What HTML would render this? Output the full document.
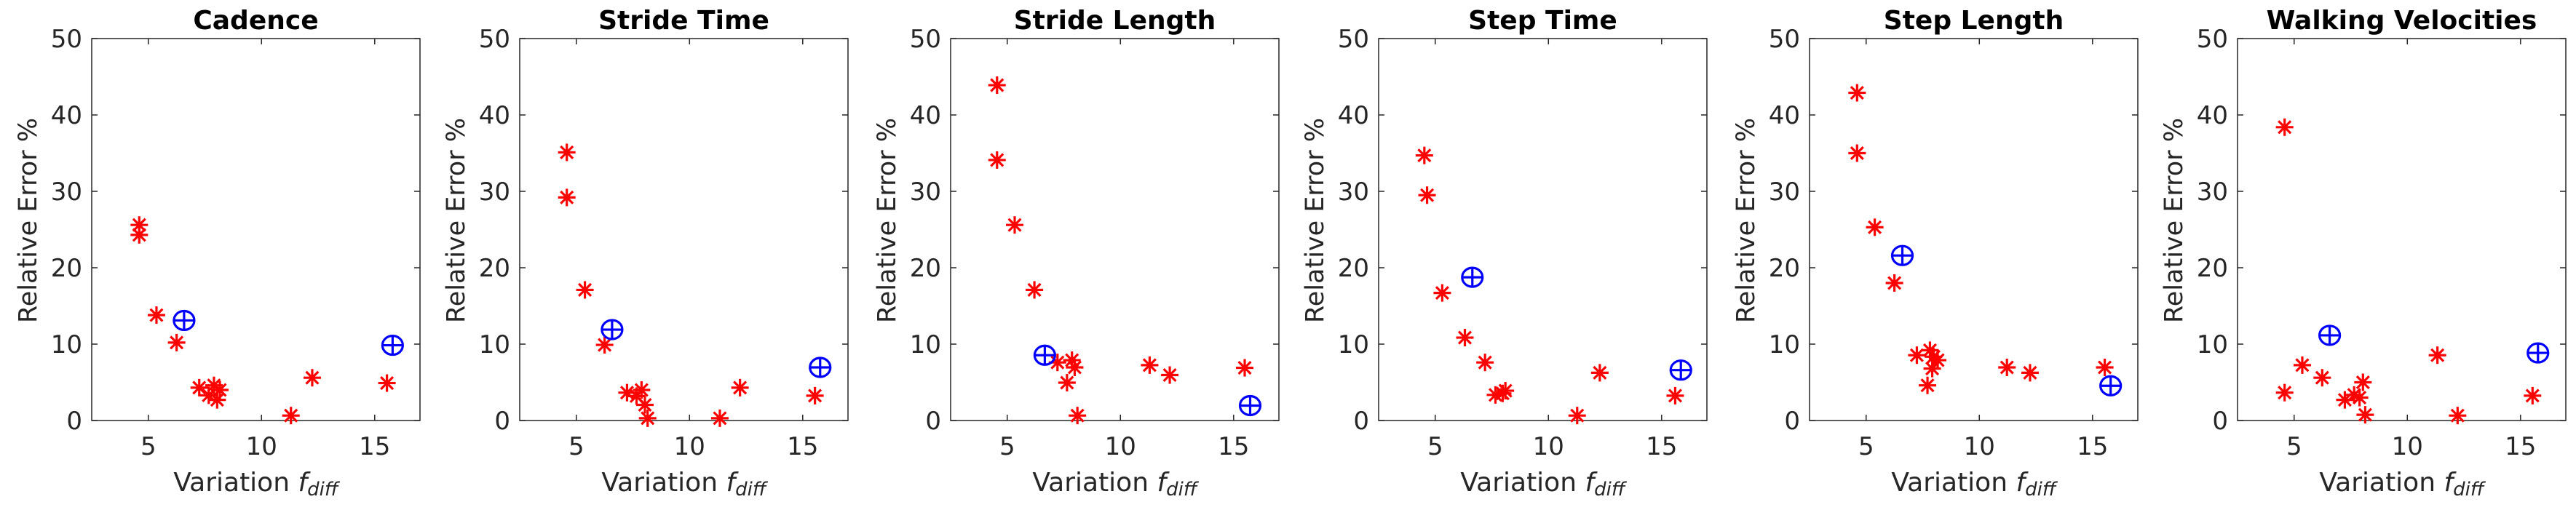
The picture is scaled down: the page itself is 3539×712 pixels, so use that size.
<!DOCTYPE html>
<html><head><meta charset="utf-8"><style>
body{margin:0;background:#fff;}
svg{display:block;}
text{font-family:"DejaVu Sans","Liberation Sans",sans-serif;}
</style></head><body>
<svg id="fig" width="3539" height="712" viewBox="0 0 3539 712" xmlns="http://www.w3.org/2000/svg"></svg>
<script>
const titles = ["Cadence","Stride Time","Stride Length","Step Time","Step Length","Walking Velocities"];
const xTicks = [5,10,15];
const yTicks = [0,10,20,30,40,50];
const redX = [
 [4.6,4.6,5.36,6.25,7.25,7.9,7.67,8.16,8.04,11.3,12.24,15.54],
 [4.58,4.58,5.38,6.25,7.24,7.66,7.88,8.03,8.15,11.34,12.23,15.54],
 [4.55,4.55,5.33,6.2,7.22,7.86,7.98,7.64,8.1,11.29,12.18,15.49],
 [4.52,4.64,5.31,6.31,7.2,7.66,7.98,8.1,11.27,12.27,15.6],
 [4.6,4.6,5.38,6.25,7.24,7.82,7.98,8.16,7.92,7.71,11.22,12.24,15.54],
 [4.58,4.58,5.36,6.24,7.24,7.65,7.89,8.04,8.14,11.33,12.22,15.53]
];
const redY = [
 [25.6,24.3,13.8,10.2,4.3,4.6,3.3,4.0,2.7,0.65,5.6,4.9],
 [35.1,29.2,17.1,9.9,3.65,3.2,4.0,2.05,0.3,0.3,4.3,3.25],
 [43.9,34.1,25.6,17.1,7.6,7.9,6.95,4.95,0.65,7.25,5.95,6.9],
 [34.7,29.5,16.7,10.85,7.6,3.35,3.55,3.9,0.65,6.25,3.25],
 [42.9,35.0,25.3,18.0,8.55,9.2,8.35,7.9,6.8,4.6,6.95,6.25,6.95],
 [38.4,3.65,7.25,5.6,2.7,3.35,3.0,5.0,0.75,8.55,0.65,3.25]
];
const blueX = [[6.58,15.79],[6.58,15.77],[6.66,15.73],[6.64,15.85],[6.6,15.8],[6.57,15.77]];
const blueY = [[13.1,9.85],[11.9,6.95],[8.55,1.95],[18.75,6.6],[21.6,4.55],[11.15,8.85]];

const NS="http://www.w3.org/2000/svg";
const svg=document.getElementById('fig');
const lefts=[126,714,1306,1894,2486,3074];
const W=451, TOP=53, BOT=578, XMIN=2.5, XMAX=17, YMIN=0, YMAX=50;
function mk(tag,attrs,parent){const e=document.createElementNS(NS,tag);for(const k in attrs)e.setAttribute(k,attrs[k]);(parent||svg).appendChild(e);return e;}

titles.forEach((t,i)=>{
  const L=lefts[i];
  const sx=v=>L+(v-XMIN)/(XMAX-XMIN)*W;
  const sy=v=>BOT-(v-YMIN)/(YMAX-YMIN)*(BOT-TOP);
  const g=mk('g',{});
  
  
  const box=mk('rect',{x:L,y:TOP,width:W,height:BOT-TOP,fill:'none',stroke:'#262626','stroke-width':1.5},g);
  
  
  xTicks.forEach(v=>{
    const x=sx(v);
    mk('line',{x1:x,y1:BOT,x2:x,y2:BOT-8,stroke:'#262626','stroke-width':1.5},g);
    mk('line',{x1:x,y1:TOP,x2:x,y2:TOP+8,stroke:'#262626','stroke-width':1.5},g);
    const tx=mk('text',{x:x,y:625,'font-size':34,'text-anchor':'middle',fill:'#262626'},g);
    tx.textContent=v;
    
    
  });
  yTicks.forEach(v=>{
    const y=sy(v);
    mk('line',{x1:L,y1:y,x2:L+8,y2:y,stroke:'#262626','stroke-width':1.5},g);
    mk('line',{x1:L+W,y1:y,x2:L+W-8,y2:y,stroke:'#262626','stroke-width':1.5},g);
    const ty=mk('text',{x:L-13,y:y+12,'font-size':34,'text-anchor':'end',fill:'#262626'},g);
    ty.textContent=v;
    
    
  });
  const title=mk('text',{x:L+W/2,y:40,'font-size':36,'font-weight':'bold','text-anchor':'middle',fill:'#000'},g);
  title.textContent=t;
  
  
  const yl=mk('text',{x:0,y:0,'font-size':35,'text-anchor':'middle',fill:'#262626',transform:`translate(${L-76},303) rotate(-90)`},g);
  yl.textContent='Relative Error %';
  
  
  const xl=mk('text',{x:L+W/2,y:675,'font-size':36,'text-anchor':'middle',fill:'#262626'},g);
  
  
  xl.appendChild(document.createTextNode('Variation '));
  const f=mk('tspan',{'font-style':'italic'},xl); f.textContent='f';
  const d=mk('tspan',{'font-style':'italic','font-size':26,dy:6},xl); d.textContent='diff';
  redX[i].forEach((xv,j)=>{
    const cx=sx(xv), cy=sy(redY[i][j]);
    const m=mk('g',{stroke:'#ff0000','stroke-width':3.2,'stroke-linecap':'butt'},g);
    
    
    const r=12;
    mk('line',{x1:cx-r,y1:cy,x2:cx+r,y2:cy},m);
    mk('line',{x1:cx,y1:cy-r,x2:cx,y2:cy+r},m);
    mk('line',{x1:cx-r*0.7,y1:cy-r*0.7,x2:cx+r*0.7,y2:cy+r*0.7},m);
    mk('line',{x1:cx-r*0.7,y1:cy+r*0.7,x2:cx+r*0.7,y2:cy-r*0.7},m);
  });
  blueX[i].forEach((xv,j)=>{
    const cx=sx(xv), cy=sy(blueY[i][j]);
    const m=mk('g',{stroke:'#0000ff','stroke-width':3.2,fill:'none'},g);
    
    
    mk('ellipse',{cx:cx,cy:cy,rx:14,ry:13},m);
    mk('line',{x1:cx-14,y1:cy,x2:cx+14,y2:cy},m);
    mk('line',{x1:cx,y1:cy-13,x2:cx,y2:cy+13},m);
  });
});
</script>
</body></html>
